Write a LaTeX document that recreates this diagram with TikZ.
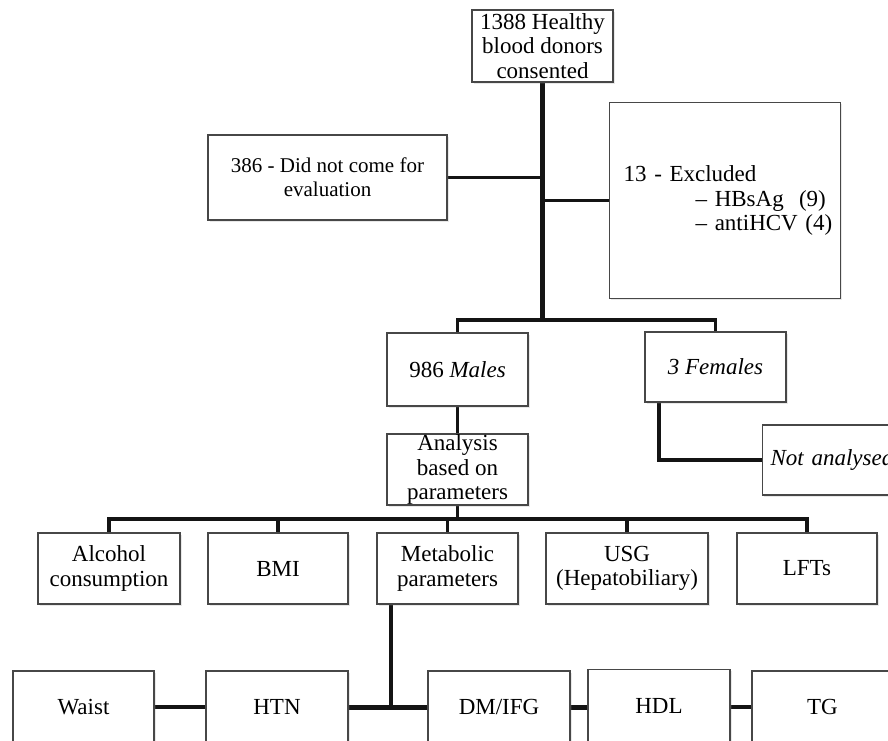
\documentclass[tikz,border=0pt]{standalone}
\usepackage{fontspec}
\setmainfont{Liberation Serif}
\usetikzlibrary{shadows,backgrounds}
\newcommand\myfnt{\fontsize{23}{24.5}\selectfont}
\newcommand\smfnt{\fontsize{21}{24}\selectfont}
\begin{document}
\begin{tikzpicture}[x=1pt,y=-1pt,
  box/.style={draw=black!72, line width=1.2pt, fill=white, align=center, inner sep=0pt,
    font=\myfnt, drop shadow={opacity=0.18, shadow xshift=1.5pt, shadow yshift=-1.5pt}},
  conn/.style={line width=3.5pt, draw=black!92, line join=miter},
  thick conn/.style={conn, line width=5pt}]
\useasboundingbox (0,0) rectangle (888,740);
\clip (0,0) rectangle (888,740);

% top part
\node[box, minimum width=141pt, minimum height=72pt] (top) at (542.5,46) {1388 Healthy\\blood donors\\consented};
\node[box, minimum width=239pt, minimum height=85pt, font=\smfnt] (nodid) at (327.5,177.5) {386 - Did not come for\\evaluation};
\node[box, anchor=north west, minimum height=196pt, text width=203pt, inner xsep=14pt, align=left] (excl) at (609,102)
  {\mbox{13 - Excluded}\\\mbox{\hspace*{72pt}– HBsAg\ \ (9)}\\\mbox{\hspace*{72pt}– antiHCV (4)}};
\coordinate (j1) at (542.5,320);

\node[box, minimum width=141pt, minimum height=73pt] (males) at (457.5,369.5) {986 \textit{Males}};
\node[box, minimum width=141pt, minimum height=70pt] (females) at (715.5,367) {\textit{3 Females}};
\node[box, anchor=west, minimum height=70pt, text width=150pt, inner xsep=8pt, align=left, font=\myfnt\itshape] (notan) at (762,460) {Not analysed};
\coordinate (fc) at (659,460);

\node[box, minimum width=141pt, minimum height=71pt] (anal) at (457.5,469.5) {Analysis\\based on\\parameters};
\coordinate (bus) at (458,519);

% middle row
\node[box, minimum width=142pt, minimum height=71pt] (alc) at (109,568.5) {Alcohol\\consumption};
\node[box, minimum width=140pt, minimum height=71pt] (bmi) at (278,568.5) {BMI};
\node[box, minimum width=141pt, minimum height=71pt] (meta) at (447.5,568.5) {Metabolic\\parameters};
\node[box, minimum width=162pt, minimum height=71pt] (usg) at (627,568.5) {USG\\(Hepatobiliary)};
\node[box, minimum width=140pt, minimum height=71pt] (lft) at (807,568.5) {LFTs};
\coordinate (mj) at (391,707);

% bottom row
\node[box, minimum width=141pt, minimum height=72pt] (waist) at (83.5,707) {Waist};
\node[box, minimum width=142pt, minimum height=72pt] (htn) at (277,707) {HTN};
\node[box, minimum width=142pt, minimum height=72pt] (dm) at (499,707) {DM/IFG};
\node[box, minimum width=142pt, minimum height=73pt] (hdl) at (659,706) {HDL};
\node[box, minimum width=141pt, minimum height=72pt] (tg) at (822.5,707) {TG};

\begin{pgfonlayer}{background}
\fill[white] (0,0) rectangle (888,740);
\draw[conn, line width=4.5pt] (top.south) -- (j1);
\draw[conn] (nodid.east) -- (nodid.east -| top.south);
\draw[conn] (excl.west) -- (excl.west -| top.south);
\draw[conn] (males.north) |- (j1) -| (females.north);
\draw[conn] (females.south -| fc) -- (fc) -- (notan.west);
\draw[conn] (males.south) -- (anal.north);
\draw[conn] (anal.south) -- (anal.south |- bus);
\draw[conn] (alc.north) |- (bus) -| (lft.north);
\draw[conn] (bmi.north) -- (bmi.north |- bus);
\draw[conn] (meta.north) -- (meta.north |- bus);
\draw[conn] (usg.north) -- (usg.north |- bus);
\draw[conn] (meta.south -| mj) -- (mj);
\draw[conn] (waist.east) -- (htn.west);
\draw[thick conn] (htn.east) -- (dm.west);
\draw[thick conn] (dm.east) -- (hdl.west |- dm.east);
\draw[conn, line width=4.5pt] (hdl.east |- tg.west) -- (tg.west);
\end{pgfonlayer}
\end{tikzpicture}
\end{document}
